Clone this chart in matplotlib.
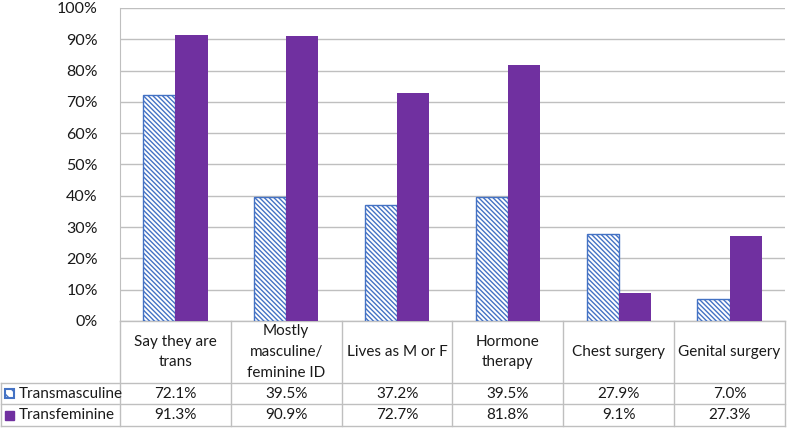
import numpy as np
import matplotlib
matplotlib.use('Agg')
from matplotlib import pyplot as plt
from matplotlib.patches import Rectangle
from matplotlib.ticker import PercentFormatter

categories = ['Say they are\ntrans', 'Mostly\nmasculine/\nfeminine ID', 'Lives as M or F',
              'Hormone\ntherapy', 'Chest surgery', 'Genital surgery']
transmasculine = [72.1, 39.5, 37.2, 39.5, 27.9, 7.0]
transfeminine = [91.3, 90.9, 72.7, 81.8, 9.1, 27.3]
series_names = ['Transmasculine', 'Transfeminine']

blue = '#4472C4'
purple = '#7030A0'
grid_col = '#BFBFBF'
text_col = '#1A1A1A'

plt.rcParams['font.family'] = ['Lato', 'DejaVu Sans']
plt.rcParams['hatch.color'] = blue
plt.rcParams['hatch.linewidth'] = 1.0

W, H = 787, 429
fig = plt.figure(figsize=(W / 100, H / 100), dpi=100)
# plot area in pixels: left 120, right 785, top 8, bottom 321
ax = fig.add_axes([120 / W, (H - 321) / H, 665 / W, 313 / H])

x = np.arange(len(categories))
bw = 0.29
hatch = '\\' * 7
ax.bar(x - bw / 2, transmasculine, bw, facecolor='white', edgecolor=blue,
       hatch=hatch, linewidth=1.0, zorder=3)
ax.bar(x + bw / 2, transfeminine, bw, color=purple, zorder=3)

ax.set_xlim(-0.5, len(categories) - 0.5)
ax.set_ylim(0, 100)
ax.set_yticks(np.arange(0, 101, 10))
ax.yaxis.set_major_formatter(PercentFormatter(decimals=0))
ax.tick_params(axis='y', length=0, pad=16, labelsize=11.5, labelcolor=text_col)
ax.set_xticks([])
ax.grid(axis='y', color=grid_col, linewidth=1.0, zorder=0)
for s in ['top', 'right', 'bottom']:
    ax.spines[s].set_visible(False)
ax.spines['left'].set_color(grid_col)

# data table below the axes (x in data units, y in axes fraction)
tr = ax.get_xaxis_transform()
px = 313.0
y_head = -62 / px
y_r1 = -83 / px
y_r2 = -105 / px
x_left = -0.5 - 119 / 110.83
x_right = len(categories) - 0.5

def hline(x0, x1, y):
    ax.plot([x0, x1], [y, y], color=grid_col, lw=1.0, transform=tr, clip_on=False)

def vline(xx, y0, y1):
    ax.plot([xx, xx], [y0, y1], color=grid_col, lw=1.0, transform=tr, clip_on=False)

hline(-0.5, x_right, 0)
hline(x_left, x_right, y_head)
hline(x_left, x_right, y_r1)
hline(x_left, x_right, y_r2)
vline(x_left, y_head, y_r2)
for b in np.arange(-0.5, len(categories), 1.0):
    vline(b, 0, y_r2)

fs = 11
for i, c in enumerate(categories):
    ax.text(i, y_head / 2, c, transform=tr, ha='center', va='center',
            fontsize=fs, color=text_col, linespacing=1.6)
    ax.text(i, (y_head + y_r1) / 2, f'{transmasculine[i]:.1f}%', transform=tr,
            ha='center', va='center', fontsize=fs, color=text_col)
    ax.text(i, (y_r1 + y_r2) / 2, f'{transfeminine[i]:.1f}%', transform=tr,
            ha='center', va='center', fontsize=fs, color=text_col)

# legend keys inside the table
sq = 9 / 110.83
sq_h = 9 / px
ax.add_patch(Rectangle((x_left + 4 / 110.83, (y_head + y_r1) / 2 - sq_h / 2), sq, sq_h,
                       facecolor='white', edgecolor=blue, hatch='\\' * 3, lw=1.5,
                       transform=tr, clip_on=False))
ax.add_patch(Rectangle((x_left + 4 / 110.83, (y_r1 + y_r2) / 2 - sq_h / 2), sq, sq_h,
                       facecolor=purple, edgecolor=purple, lw=1.0,
                       transform=tr, clip_on=False))
ax.text(x_left + 18 / 110.83, (y_head + y_r1) / 2, series_names[0], transform=tr,
        ha='left', va='center', fontsize=fs, color=text_col)
ax.text(x_left + 18 / 110.83, (y_r1 + y_r2) / 2, series_names[1], transform=tr,
        ha='left', va='center', fontsize=fs, color=text_col)

plt.savefig('out.png', dpi=100)
